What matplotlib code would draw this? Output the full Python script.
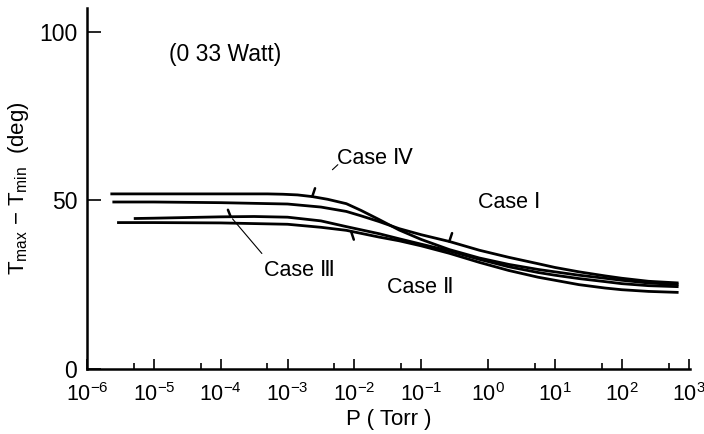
import numpy as np
import matplotlib
matplotlib.use("Agg")
import matplotlib.pyplot as plt
from matplotlib.ticker import FixedLocator, LogFormatterMathtext, NullFormatter

# log10(P [Torr]) and Tmax - Tmin (deg)
logp_iv = [-5.65, -5.0, -4.0, -3.3, -3.07, -2.85, -2.63, -2.4, -2.12, -1.9, -1.63, -1.33, -1.0, -0.58,
           -0.13, 0.31, 0.75, 1.0, 1.36, 1.75, 2.0, 2.4, 2.85]
val_iv = [51.9, 51.9, 51.9, 51.9, 51.8, 51.6, 51.1, 50.3, 49.0, 47.0, 44.3, 41.2, 38.4, 35.4,
          32.9, 31.0, 29.5, 28.8, 27.8, 26.9, 26.3, 25.5, 25.0]

logp_i = [-5.62, -5.0, -4.0, -3.0, -2.5, -2.12, -1.9, -1.63, -1.33, -1.0, -0.58, -0.13, 0.31, 0.75,
          1.0, 1.36, 1.75, 2.0, 2.4, 2.85]
val_i = [49.5, 49.5, 49.3, 48.9, 48.0, 46.7, 45.4, 43.7, 41.6, 39.8, 37.8, 35.2, 33.1, 31.2,
         30.1, 28.8, 27.6, 26.9, 26.0, 25.5]

logp_iii = [-5.3, -5.0, -4.0, -3.5, -3.0, -2.5, -2.12, -1.63, -1.33, -1.0, -0.58, -0.13, 0.31, 0.75,
            1.0, 1.36, 1.75, 2.0, 2.4, 2.85]
val_iii = [44.6, 44.7, 45.1, 45.2, 45.0, 43.9, 42.2, 40.1, 38.6, 37.0, 35.0, 32.5, 30.3, 28.6,
           27.8, 26.8, 25.9, 25.3, 24.7, 24.4]

logp_ii = [-5.55, -5.0, -4.0, -3.0, -2.5, -2.12, -1.63, -1.33, -1.0, -0.58, -0.13, 0.31, 0.75,
           1.0, 1.36, 1.75, 2.0, 2.4, 2.85]
val_ii = [43.4, 43.4, 43.3, 42.9, 42.0, 41.1, 39.1, 38.0, 36.5, 34.3, 31.6, 29.2, 27.2,
          26.3, 25.0, 24.0, 23.5, 23.0, 22.7]

major_exp = list(range(-6, 4))
minor_exp = [-5.3, -4.3, -3.3, -2.3, -1.3, 0.7, 1.7, 2.7]
y_ticks = [0, 50, 100]

FAM = ['Liberation Sans', 'DejaVu Sans']
plt.rcParams['font.family'] = FAM
plt.rcParams['mathtext.fontset'] = 'custom'
plt.rcParams['mathtext.rm'] = 'Liberation Sans'
plt.rcParams['mathtext.it'] = 'Liberation Sans'

fig = plt.figure(figsize=(7.04, 4.34), dpi=100)
ax = fig.add_axes([87/704, 1-369/434, 603/704, 361/434])

curves = {}
for name, lp, v in [("IV", logp_iv, val_iv), ("I", logp_i, val_i),
                    ("III", logp_iii, val_iii), ("II", logp_ii, val_ii)]:
    p = 10.0 ** np.array(lp)
    ax.plot(p, v, color='black', lw=2.0, solid_capstyle='butt', solid_joinstyle='round')
    curves[name] = (np.array(lp), np.array(v))

ax.set_xscale('log')
ax.set_xlim(1e-6, 1.05e3)
ax.set_ylim(0, 107)

ax.xaxis.set_major_locator(FixedLocator([10.0 ** e for e in major_exp]))
ax.xaxis.set_minor_locator(FixedLocator([10.0 ** e for e in minor_exp]))
ax.xaxis.set_major_formatter(LogFormatterMathtext())
ax.xaxis.set_minor_formatter(NullFormatter())
ax.set_yticks(y_ticks)

for s in ['top', 'right']:
    ax.spines[s].set_visible(False)
for s in ['left', 'bottom']:
    ax.spines[s].set_linewidth(1.8)

ax.tick_params(axis='x', which='major', direction='in', length=7, width=1.2, labelsize=15.5, pad=10)
ax.tick_params(axis='x', which='minor', direction='in', length=4, width=1.2)
ax.tick_params(axis='y', which='major', direction='in', length=10, width=1.2, labelsize=16.5, pad=7)

ax.set_xlabel('P ( Torr )', fontsize=16, labelpad=2)
ax.set_ylabel(r'T$_{\mathrm{max}}$ $-$ T$_{\mathrm{min}}$  (deg)', fontsize=16, labelpad=6)

ax.text(0.229, 0.87, '(0 33 Watt)', transform=ax.transAxes, fontsize=16.5,
        ha='center', va='center')

# small tick marks on curves
def mark(name, lx, dx, dy):
    lp, v = curves[name]
    ax.annotate('', xy=(10.0 ** lx, np.interp(lx, lp, v)),
                xytext=(dx, dy), textcoords='offset points',
                arrowprops=dict(arrowstyle='-', lw=1.8, color='black',
                                shrinkA=0, shrinkB=0))

mark("IV", -2.63, 2, 6)
mark("I", -0.58, 2, 6)
mark("II", -2.05, 2, -6)
mark("III", -3.85, -2, 5)

ax.text(0.478, 0.584, 'Case Ⅳ', transform=ax.transAxes, fontsize=15.5, ha='center', va='center')
ax.annotate('', xy=(0.407, 0.552), xytext=(0.416, 0.566), xycoords='axes fraction',
            textcoords='axes fraction',
            arrowprops=dict(arrowstyle='-', lw=0.8, color='black', shrinkA=0, shrinkB=0))
ax.text(0.70, 0.46, 'Case Ⅰ', transform=ax.transAxes, fontsize=15.5, ha='center', va='center')
ax.text(0.552, 0.227, 'Case Ⅱ', transform=ax.transAxes, fontsize=15.5, ha='center', va='center')
ax.text(0.353, 0.274, 'Case Ⅲ', transform=ax.transAxes, fontsize=15.5, ha='center', va='center')
ax.annotate('', xy=(10.0 ** -3.85, np.interp(-3.85, logp_iii, val_iii)),
            xytext=(0.29, 0.32), textcoords='axes fraction',
            arrowprops=dict(arrowstyle='-', lw=0.8, color='black', shrinkA=0, shrinkB=2))

fig.savefig('out.png', dpi=100)
